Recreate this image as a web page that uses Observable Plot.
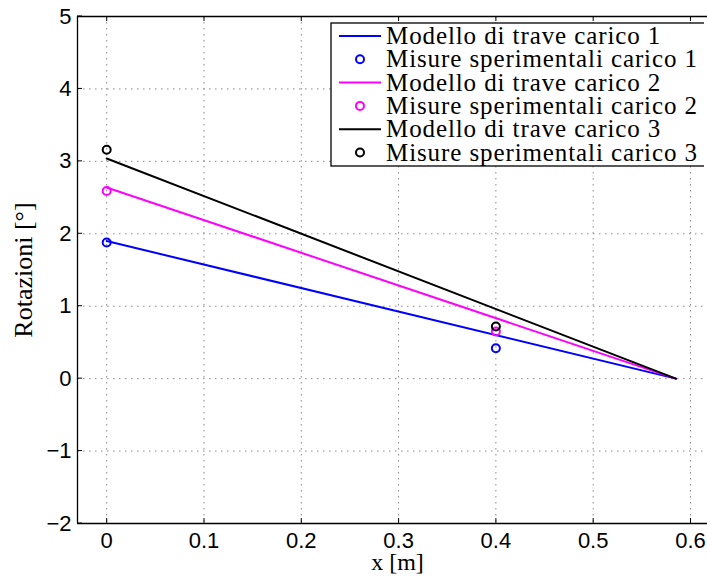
<!DOCTYPE html>
<html>
<head>
<meta charset="utf-8">
<script src="https://cdn.jsdelivr.net/npm/d3@7"></script>
<script src="https://cdn.jsdelivr.net/npm/@observablehq/plot@0.6"></script>
<style>
  html, body { margin: 0; padding: 0; background: #fff; overflow: hidden; }
  #chart svg { display: block; }
</style>
</head>
<body>
<div id="chart"></div>
<script>
// Beam model (straight lines) and measured rotations for three load cases
const xModel = [0, 0.585];
const model1 = [1.90, 0];
const model2 = [2.64, 0];
const model3 = [3.04, 0];

const xMeas = [0, 0.4];
const meas1 = [1.88, 0.42];
const meas2 = [2.59, 0.65];
const meas3 = [3.16, 0.72];

const seriesNames = [
  "Modello di trave carico 1", "Misure sperimentali carico 1",
  "Modello di trave carico 2", "Misure sperimentali carico 2",
  "Modello di trave carico 3", "Misure sperimentali carico 3"
];
const seriesColors = ["#0000ff", "#ff00ff", "#000000"];

const xTicks = [0, 0.1, 0.2, 0.3, 0.4, 0.5, 0.6];
const yTicks = [-2, -1, 0, 1, 2, 3, 4, 5];
const xDomain = [-0.03, 0.6175];   // the axes box runs on past the right edge
const yDomain = [-2, 5];
const xLabel = "x [m]";
const yLabel = "Rotazioni [°]";

const models = [model1, model2, model3].map((ys, k) =>
  ys.map((y, i) => ({x: xModel[i], y, k})));
const meas = [meas1, meas2, meas3].map((ys, k) =>
  ys.map((y, i) => ({x: xMeas[i], y, k})));

const W = 707, H = 580;
const mT = 16, mB = 57, mL = 77, mR = 0;
const innerH = H - mT - mB;
const tickLen = 5;
const sans = "Liberation Sans, Arial, Helvetica, sans-serif";
const serif = "Liberation Serif, Times New Roman, serif";

const fmtY = d => d < 0 ? "\u2212" + Math.abs(d) : String(d);

const plot = Plot.plot({
  width: W, height: H,
  marginTop: mT, marginBottom: mB, marginLeft: mL, marginRight: mR,
  style: {background: "#fff"},
  x: {domain: xDomain},
  y: {domain: yDomain},
  marks: [
    // dotted grid
    Plot.gridX(xTicks, {stroke: "#8a8a8a", strokeOpacity: 1, strokeDasharray: "1.5,4.5", strokeWidth: 1}),
    Plot.gridY(yTicks, {stroke: "#8a8a8a", strokeOpacity: 1, strokeDasharray: "1.5,4.5", strokeWidth: 1}),
    // inward ticks on top and bottom
    Plot.tickX(xTicks, {x: d => d, insetTop: innerH - tickLen, stroke: "#000"}),
    Plot.tickX(xTicks, {x: d => d, insetBottom: innerH - tickLen, stroke: "#000"}),
    // model lines
    ...models.map((data, k) => Plot.line(data, {x: "x", y: "y", stroke: seriesColors[k], strokeWidth: 2})),
    // measurements
    ...meas.map((data, k) => Plot.dot(data, {x: "x", y: "y", r: 4, stroke: seriesColors[k], strokeWidth: 2, fill: "none"})),
    // axes box: left, top and bottom sides
    Plot.ruleX([xDomain[0]], {stroke: "#000", strokeWidth: 1.3}),
    Plot.ruleY(yDomain, {stroke: "#000", strokeWidth: 1.3}),
    Plot.axisX(xTicks, {tickSize: 0, tickPadding: 9, fontSize: 22, fontFamily: sans, fill: "#000", label: null, tickFormat: d => String(d)}),
    Plot.axisY(yTicks, {tickSize: 0, tickPadding: 6, fontSize: 22, fontFamily: sans, fill: "#000", label: null, tickFormat: fmtY}),
    Plot.text([xLabel], {frameAnchor: "bottom", dx: 5, dy: 46, text: d => d, fontSize: 24, fontFamily: serif, fill: "#000", letterSpacing: 1}),
    Plot.text([yLabel], {frameAnchor: "left", textAnchor: "middle", dx: -54, rotate: -90, text: d => d, fontSize: 26, fontFamily: serif, fill: "#000", letterSpacing: 1})
  ]
});

// y ticks pointing inward from the left edge
const sy = plot.scale("y");
const svg = d3.select(plot);
const g = svg.append("g").attr("stroke", "#000");
yTicks.forEach(v => {
  const py = sy.apply(v);
  g.append("line").attr("x1", mL).attr("x2", mL + tickLen).attr("y1", py).attr("y2", py);
});

// legend box
const lg = svg.append("g").attr("font-family", serif).attr("font-size", 25)
  .attr("text-anchor", "start").style("letter-spacing", "0.9px");
const lx = 331, ly = 23, rowH = 23.3;
lg.append("rect").attr("x", lx).attr("y", ly).attr("width", 420).attr("height", 143)
  .attr("fill", "#fff").attr("stroke", "#000").attr("stroke-width", 1.3);
seriesNames.forEach((name, i) => {
  const cy = ly + 13 + i * rowH;
  const color = seriesColors[Math.floor(i / 2)];
  if (i % 2 === 0) {
    lg.append("line").attr("x1", lx + 8).attr("x2", lx + 50).attr("y1", cy).attr("y2", cy)
      .attr("stroke", color).attr("stroke-width", 2);
  } else {
    lg.append("circle").attr("cx", lx + 29).attr("cy", cy).attr("r", 4)
      .attr("fill", "none").attr("stroke", color).attr("stroke-width", 2);
  }
  lg.append("text").attr("x", lx + 55).attr("y", cy + 8).attr("fill", "#000").text(name);
});

// keep the clipped right side of the axes box open
svg.append("rect").attr("x", W - 3).attr("y", mT + 2).attr("width", 3).attr("height", innerH - 4)
  .attr("fill", "#fff");

document.getElementById("chart").appendChild(plot);
</script>
</body>
</html>
